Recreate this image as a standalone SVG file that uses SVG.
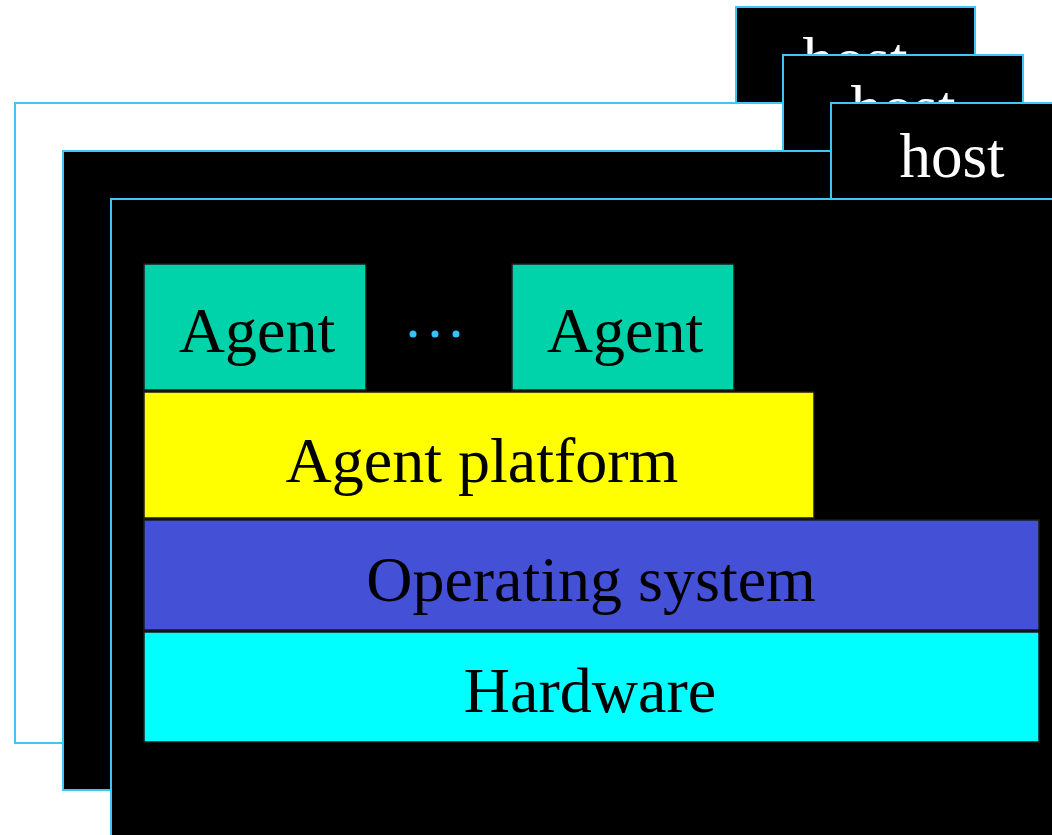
<svg xmlns="http://www.w3.org/2000/svg" width="1052" height="835" viewBox="0 0 1052 835">
  <style>
    .frame { stroke: #3cc8f0; stroke-width: 2; }
    .tab { fill: #000000; stroke: #3cc8f0; stroke-width: 2; }
    .tabtxt { font-family: "Liberation Serif", "Times New Roman", serif; font-size: 63px; fill: #ffffff; text-anchor: middle; }
    .layer { stroke: #1a1a1a; stroke-width: 1.5; }
    .lbl { font-family: "Liberation Serif", "Times New Roman", serif; font-size: 64px; fill: #000000; text-anchor: middle; }
  </style>
  <rect width="1052" height="835" fill="#ffffff"/>

  <!-- back host -->
  <g id="host-back">
    <rect class="frame" x="15" y="103" width="960" height="640" fill="#ffffff"/>
    <rect class="tab" x="736" y="7" width="239" height="96"/>
    <text class="tabtxt" x="855" y="81">host</text>
  </g>

  <!-- middle host -->
  <g id="host-middle">
    <rect class="frame" x="63" y="151" width="960" height="639" fill="#000000"/>
    <rect class="tab" x="783" y="55" width="240" height="96"/>
    <text class="tabtxt" x="903" y="129">host</text>
  </g>

  <!-- front host -->
  <g id="host-front">
    <rect class="frame" x="111" y="199" width="960" height="650" fill="#000000"/>
    <rect class="tab" x="831" y="103" width="240" height="96"/>
    <text class="tabtxt" x="952" y="177">host</text>
  </g>

  <!-- software stack inside the front host -->
  <g id="agent-1">
    <rect class="layer" x="144" y="264" width="222" height="126" fill="#00d2aa"/>
    <text class="lbl" x="257" y="352">Agent</text>
  </g>

  <g id="ellipsis" fill="#33c4ff">
    <circle cx="413" cy="334" r="3.5"/>
    <circle cx="435" cy="334" r="3.5"/>
    <circle cx="456" cy="334" r="3.5"/>
  </g>

  <g id="agent-2">
    <rect class="layer" x="512" y="264" width="222" height="126" fill="#00d2aa"/>
    <text class="lbl" x="625" y="352">Agent</text>
  </g>

  <g id="agent-platform">
    <rect class="layer" x="144" y="392" width="670" height="126" fill="#ffff00"/>
    <text class="lbl" x="482" y="482">Agent platform</text>
  </g>

  <g id="operating-system">
    <rect class="layer" x="144" y="520" width="895" height="110" fill="#4450d5"/>
    <text class="lbl" x="591" y="601">Operating system</text>
  </g>

  <g id="hardware">
    <rect class="layer" x="144" y="632" width="895" height="110" fill="#00ffff"/>
    <text class="lbl" x="590" y="712">Hardware</text>
  </g>

  <g id="connectors"/>
</svg>
